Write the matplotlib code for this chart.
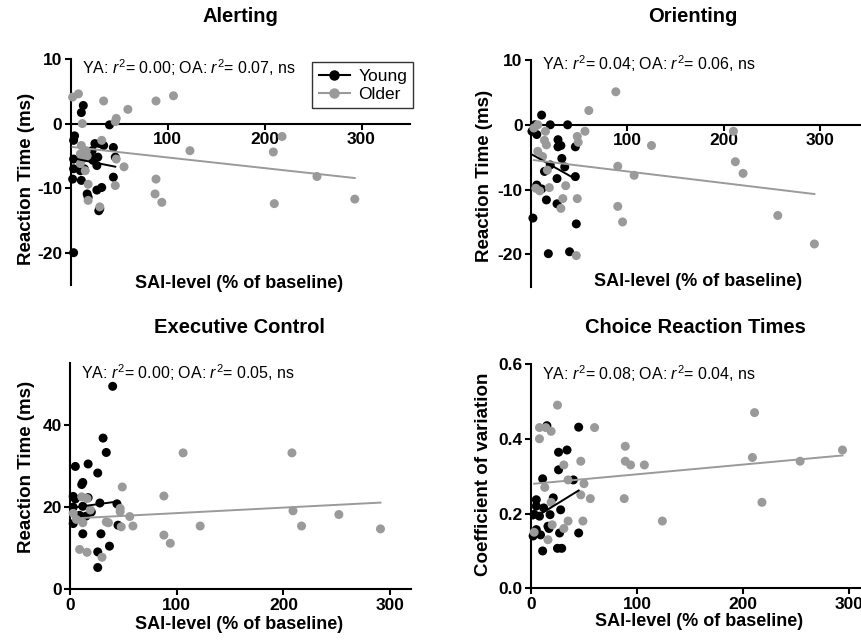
import numpy as np
import matplotlib

matplotlib.use("Agg")
import matplotlib.pyplot as plt

plt.rcParams["font.family"] = ["Liberation Sans", "DejaVu Sans"]
plt.rcParams["mathtext.fontset"] = "custom"
plt.rcParams["mathtext.rm"] = "Liberation Sans"
plt.rcParams["mathtext.it"] = "Liberation Sans:italic"
plt.rcParams["axes.unicode_minus"] = False

YOUNG_COLOR = "#000000"
OLDER_COLOR = "#9a9a9a"

# Alerting
alert_young_x = [3, 13, 11, 40, 4, 3, 25, 30, 34, 44, 22, 20, 28, 46, 3, 23, 27, 3, 14,
                 10, 44, 2, 11, 32, 27, 17, 18, 30, 29]
alert_young_y = [-20, 2.8, 1.7, -0.2, -1.9, -2.6, -3.1, -3.1, -3.4, -3.7, -4.2, -5.0, -5.2,
                 -5.2, -5.5, -5.7, -6.5, -7.0, -7.0, -7.3, -8.3, -8.6, -8.8, -9.9, -10.3,
                 -10.9, -11.4, -13.2, -13.5]
alert_older_x = [2, 8, 34, 59, 47, 46, 12, 88, 106, 32, 11, 16, 10, 17, 12, 10, 47, 55, 15,
                 18, 46, 18, 30, 88, 87, 94, 123, 209, 218, 254, 210, 293]
alert_older_y = [4.1, 4.6, 3.5, 2.2, 0.8, 0.3, 0.0, 3.5, 4.3, -2.6, -3.4, -4.2, -4.7, -5.0,
                 -5.5, -6.2, -5.5, -6.7, -7.3, -9.4, -9.6, -11.9, -12.9, -8.6, -10.9, -12.2,
                 -4.2, -4.4, -2.0, -8.2, -12.4, -11.7]

# Orienting
orient_young_x = [11, 4, 20, 38, 6, 28, 28, 31, 46, 32, 14, 35, 27, 46, 6, 11, 16, 27, 2,
                  47, 18, 40, 20, 1]
orient_young_y = [1.5, 0.0, 0.0, 0.0, -1.5, -2.3, -3.4, -3.2, -3.4, -5.2, -7.2, -6.5, -8.3,
                  -8.0, -9.3, -9.9, -11.6, -12.2, -14.4, -15.3, -19.9, -19.6, -6.2, -1.0]
orient_older_x = [88, 60, 56, 48, 49, 125, 90, 107, 90, 95, 210, 212, 220, 256, 294, 47, 48,
                  36, 33, 31, 19, 9, 5, 7, 15, 14, 16, 7, 12, 17, 3]
orient_older_y = [5.1, 2.2, -1.0, -1.8, -2.7, -3.2, -6.4, -7.8, -12.6, -15.0, -1.0, -5.7,
                  -7.5, -14.0, -18.4, -20.2, -11.4, -9.4, -11.4, -12.9, -9.7, -10.2, -9.8,
                  0.0, -1.0, -2.4, -3.1, -4.1, -4.9, -7.0, -0.5]

# Executive control
exec_young_x = [40, 31, 34, 5, 17, 26, 11, 12, 3, 17, 5, 28, 44, 3, 12, 20, 9, 3, 12, 29,
                45, 26, 37, 26, 15]
exec_young_y = [49.4, 36.8, 33.3, 29.9, 30.5, 28.3, 25.5, 26.0, 22.6, 22.3, 22.0, 21.0,
                20.8, 20.0, 20.2, 18.8, 18.0, 16.0, 13.5, 13.5, 15.6, 9.1, 10.5, 5.3, 17.8]
exec_older_x = [106, 208, 49, 88, 209, 252, 217, 291, 122, 59, 56, 88, 94, 47, 47, 48, 34,
                30, 9, 16, 11, 16, 12, 3, 19, 36, 6]
exec_older_y = [33.2, 33.2, 24.9, 22.7, 19.1, 18.2, 15.4, 14.7, 15.4, 15.4, 17.7, 13.2,
                11.2, 19.7, 18.9, 15.2, 16.4, 7.8, 9.7, 9.0, 22.5, 22.1, 16.2, 18.5, 19.3,
                16.2, 17.0]

# Choice reaction times (coefficient of variation)
choice_young_x = [15, 45, 26, 34, 26, 11, 40, 5, 21, 5, 12, 8, 18, 5, 16, 27, 45, 2, 28,
                  3, 9, 11, 25, 29, 17]
choice_young_y = [0.435, 0.431, 0.364, 0.37, 0.317, 0.293, 0.29, 0.237, 0.242, 0.22,
                  0.215, 0.193, 0.197, 0.157, 0.166, 0.148, 0.148, 0.14, 0.21, 0.198,
                  0.143, 0.10, 0.107, 0.107, 0.16]
choice_older_x = [25, 211, 60, 8, 14, 8, 19, 89, 89, 94, 107, 209, 254, 294, 47, 31, 50,
                  47, 56, 88, 124, 218, 49, 13, 35, 19, 20, 35, 31, 16, 3]
choice_older_y = [0.49, 0.47, 0.43, 0.43, 0.43, 0.40, 0.42, 0.38, 0.34, 0.33, 0.33, 0.35,
                  0.34, 0.37, 0.34, 0.33, 0.28, 0.25, 0.24, 0.24, 0.18, 0.23, 0.18, 0.27,
                  0.29, 0.23, 0.17, 0.18, 0.16, 0.13, 0.15]

# regression lines (intercept, slope)
alert_fit = {"young": (-5.3, -0.03), "older": (-3.6, -0.0165)}
orient_fit = {"young": (-4.5, -0.084), "older": (-5.4, -0.018)}
exec_fit = {"young": (19.8, 0.035), "older": (17.2, 0.0134)}
choice_fit = {"young": (0.183, 0.00175), "older": (0.279, 0.00026)}

panels = [
    dict(title="Alerting", ylabel="Reaction Time (ms)",
         young=(alert_young_x, alert_young_y), older=(alert_older_x, alert_older_y),
         fit=alert_fit, r2=("0.00", "0.07"),
         rect=[0.0820, 0.5561, 0.3937, 0.3520], xlim=(0, 350), ylim=(-25, 10),
         yticks=[-20, -10, 0, 10], xticks=[100, 200, 300], zero_axis=True,
         ylab_x=-0.129, ylab_y=0.47, xlab_y=0.045, note_y=0.962, title_xy=(240, 17)),
    dict(title="Orienting", ylabel="Reaction Time (ms)",
         young=(orient_young_x, orient_young_y), older=(orient_older_x, orient_older_y),
         fit=orient_fit, r2=("0.04", "0.06"),
         rect=[0.6160, 0.5534, 0.3914, 0.3531], xlim=(0, 350), ylim=(-25, 10),
         yticks=[-20, -10, 0, 10], xticks=[100, 200, 300], zero_axis=True,
         ylab_x=-0.139, ylab_y=0.49, xlab_y=0.06, note_y=0.985, title_xy=(693, 17)),
    dict(title="Executive Control", ylabel="Reaction Time (ms)",
         young=(exec_young_x, exec_young_y), older=(exec_older_x, exec_older_y),
         fit=exec_fit, r2=("0.00", "0.05"),
         rect=[0.0812, 0.0821, 0.3961, 0.3520], xlim=(0, 320), ylim=(0, 55),
         yticks=[0, 20, 40], xticks=[0, 100, 200, 300], zero_axis=False,
         ylab_x=-0.126, ylab_y=0.54, xlab_y=-0.12, note_y=0.957, title_xy=(239, 328)),
    dict(title="Choice Reaction Times", ylabel="Coefficient of variation",
         young=(choice_young_x, choice_young_y), older=(choice_older_x, choice_older_y),
         fit=choice_fit, r2=("0.08", "0.04"),
         rect=[0.6160, 0.0836, 0.3933, 0.3494], xlim=(0, 320), ylim=(0, 0.6),
         yticks=[0.0, 0.2, 0.4, 0.6], xticks=[0, 100, 200, 300], zero_axis=False,
         ylab_x=-0.139, ylab_y=0.51, xlab_y=-0.11, note_y=0.958, title_xy=(695, 328)),
]

W, H = 862, 642
fig = plt.figure(figsize=(W / 100, H / 100), dpi=100, facecolor="white")

for p in panels:
    ax = fig.add_axes(p["rect"])
    ax.set_xlim(*p["xlim"])
    ax.set_ylim(*p["ylim"])

    for key, color in (("young", YOUNG_COLOR), ("older", OLDER_COLOR)):
        xs, ys = p[key]
        ax.scatter(xs, ys, s=42, color=color, edgecolors="none", zorder=3,
                   clip_on=False)
    for key, color in (("young", YOUNG_COLOR), ("older", OLDER_COLOR)):
        xs = np.array(p[key][0], dtype=float)
        b, m = p["fit"][key]
        lx = np.array([xs.min(), xs.max()])
        ax.plot(lx, b + m * lx, color=color, lw=1.4, zorder=4)

    for side in ("top", "right"):
        ax.spines[side].set_visible(False)
    for side in ("left", "bottom"):
        ax.spines[side].set_linewidth(1.5)
    if p["zero_axis"]:
        ax.spines["bottom"].set_position(("data", 0))

    ax.set_xticks(p["xticks"])
    ax.set_yticks(p["yticks"])
    if p["ylim"][1] < 1:
        ax.set_yticklabels([f"{v:.1f}" for v in p["yticks"]])
    ax.tick_params(direction="out", length=4, width=1.5, labelsize=12.5, pad=2)
    for lab in ax.get_xticklabels() + ax.get_yticklabels():
        lab.set_fontweight("bold")

    ax.set_ylabel(p["ylabel"], fontsize=13.5, fontweight="bold")
    ax.yaxis.set_label_coords(p["ylab_x"], p["ylab_y"])
    ax.yaxis.label.set_va("center")
    ax.set_xlabel("SAI-level (% of baseline)", fontsize=13, fontweight="bold")
    ax.xaxis.set_label_coords(0.495, p["xlab_y"])
    ax.xaxis.label.set_va("top")

    ya, oa = p["r2"]
    ax.text(0.032, p["note_y"],
            rf"YA: $\mathit{{r}}^2$= {ya}; OA: $\mathit{{r}}^2$= {oa}, ns",
            transform=ax.transAxes, fontsize=11.5, ha="left", va="center")

    tx, ty = p["title_xy"]
    fig.text(tx / W, 1 - ty / H, p["title"], fontsize=14.5, fontweight="bold",
             ha="center", va="center",
             family=["Liberation Sans Narrow", "Liberation Sans", "DejaVu Sans"])

    if p["title"] == "Alerting":
        h_y, = ax.plot([], [], color=YOUNG_COLOR, marker="o", ms=6.5, lw=1.5,
                       label="Young")
        h_o, = ax.plot([], [], color=OLDER_COLOR, marker="o", ms=6.5, lw=1.5,
                       label="Older")
        leg = ax.legend(handles=[h_y, h_o], loc="upper right",
                        bbox_to_anchor=(1.01, 0.985), borderaxespad=0,
                        fontsize=12.5, frameon=True, fancybox=False,
                        handlelength=1.8, handletextpad=0.5, borderpad=0.35,
                        labelspacing=0.2)
        leg.get_frame().set_edgecolor("black")
        leg.get_frame().set_linewidth(1.0)

fig.savefig("out.png", dpi=100, facecolor="white")
